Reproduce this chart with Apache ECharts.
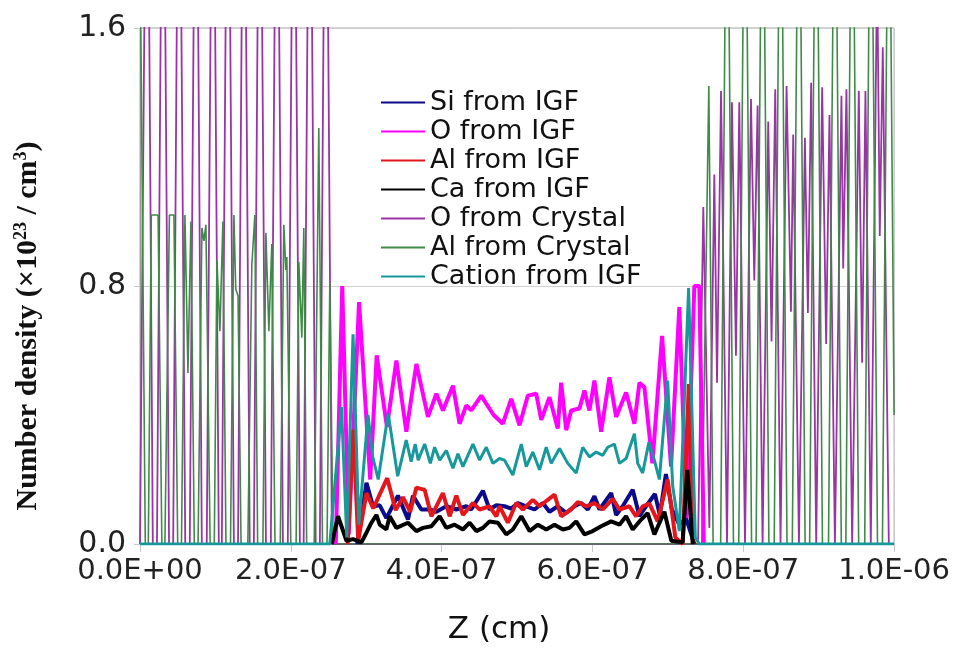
<!DOCTYPE html>
<html lang="en">
<head>
    <meta charset="UTF-8">
    <title>Number density profile</title>
    <script src="https://cdn.jsdelivr.net/npm/echarts@6/dist/echarts.min.js"></script>
    <style>
        html, body { margin: 0; padding: 0; background: #fff; }
        #chart { width: 953px; height: 650px; }
    </style>
</head>
<body>
<div id="chart"></div>
<script>
    // z in units of 1E-07 cm (nm), density in 1E23 / cm3
    var xTickLabels = ['0.0E+00', '2.0E-07', '4.0E-07', '6.0E-07', '8.0E-07', '1.0E-06'];
    var yTickLabels = ['0.0', '0.8', '1.6'];
    var seriesNames = ['Si from IGF', 'O from IGF', 'Al from IGF', 'Ca from IGF', 'O from Crystal', 'Al from Crystal', 'Cation from IGF'];

    var siIGF = [[2.881,0],[3.003,0.19],[3.090,0.117],[3.179,0.12],[3.267,0.08],[3.421,0.15],[3.554,0.076],[3.620,0.15],
        [3.731,0.107],[3.841,0.107],[3.930,0.1],[4.062,0.117],[4.195,0.107],[4.327,0.117],[4.393,0.107],[4.547,0.165],
        [4.636,0.107],[4.725,0.12],[4.834,0.117],[4.923,0.11],[5.011,0.127],[5.122,0.117],[5.232,0.107],[5.342,0.127],
        [5.430,0.1],[5.540,0.117],[5.652,0.097],[5.762,0.117],[5.850,0.127],[5.938,0.107],[6.026,0.148],[6.093,0.107],
        [6.248,0.158],[6.314,0.09],[6.401,0.117],[6.534,0.168],[6.623,0.086],[6.711,0.117],[6.828,0.155],[6.894,0.09],
        [6.974,0.217],[7.053,0.107],[7.152,0.06],[7.241,0.08],[7.351,0]];

    var oIGF = [[2.596,0],[2.682,0.80],[2.768,0.03],[2.905,0.75],[3.053,0.2],[3.139,0.585],[3.275,0.363],[3.400,0.569],
        [3.532,0.348],[3.665,0.558],[3.819,0.394],[3.930,0.466],[4.017,0.414],[4.150,0.491],[4.238,0.373],[4.327,0.43],
        [4.393,0.414],[4.526,0.46],[4.592,0.435],[4.689,0.40],[4.812,0.373],[4.923,0.45],[5.033,0.368],[5.143,0.46],
        [5.254,0.466],[5.321,0.385],[5.430,0.455],[5.540,0.358],[5.585,0.50],[5.652,0.353],[5.718,0.414],[5.828,0.42],
        [5.894,0.476],[5.960,0.414],[6.026,0.507],[6.115,0.348],[6.225,0.517],[6.314,0.394],[6.446,0.47],[6.556,0.373],
        [6.623,0.50],[6.689,0.486],[6.795,0.25],[6.923,0.645],[7.042,0.24],[7.152,0.735],[7.249,0.08],[7.351,0.80],
        [7.417,0.80],[7.477,0]];

    var alIGF = [[2.755,0],[2.828,0.355],[2.894,0.01],[3.003,0.158],[3.093,0.11],[3.278,0.204],[3.391,0.105],[3.487,0.145],
        [3.583,0.1],[3.665,0.175],[3.775,0.168],[3.864,0.086],[4.017,0.158],[4.106,0.086],[4.195,0.15],[4.282,0.09],
        [4.415,0.127],[4.503,0.107],[4.636,0.117],[4.725,0.086],[4.768,0.117],[4.878,0.066],[4.989,0.127],[5.077,0.107],
        [5.209,0.137],[5.298,0.117],[5.497,0.153],[5.585,0.086],[5.718,0.107],[5.805,0.13],[5.917,0.117],[6.026,0.127],
        [6.137,0.107],[6.269,0.14],[6.358,0.107],[6.490,0.117],[6.579,0.086],[6.666,0.117],[6.755,0.125],[6.865,0.07],
        [6.997,0.2],[7.099,0.02],[7.196,0],[7.278,0.496],[7.331,0]];

    var caIGF = [[2.543,0],[2.626,0.086],[2.738,0.01],[2.825,0.015],[2.936,0.005],[3.003,0.035],[3.069,0.066],[3.135,0.09],
        [3.179,0.06],[3.267,0.045],[3.311,0.086],[3.400,0.05],[3.554,0.066],[3.665,0.04],[3.752,0.05],[3.864,0.055],
        [3.974,0.086],[4.062,0.05],[4.172,0.06],[4.282,0.045],[4.371,0.066],[4.460,0.04],[4.547,0.05],[4.636,0.07],
        [4.746,0.066],[4.857,0.03],[4.944,0.045],[5.056,0.086],[5.166,0.04],[5.276,0.06],[5.387,0.045],[5.497,0.06],
        [5.607,0.045],[5.695,0.05],[5.784,0.07],[5.894,0.03],[6.004,0.04],[6.115,0.055],[6.248,0.07],[6.358,0.06],
        [6.446,0.086],[6.534,0.045],[6.623,0.07],[6.732,0.096],[6.821,0.03],[6.954,0.1],[7.046,0.01],[7.196,0.005],
        [7.258,0.23],[7.331,0]];

    var oCrystal = [[0,0],[0.013,0],[0.093,2.6],[0.17,0],[0.225,0],[0.305,2.6],[0.385,0],[0.44,0],[0.517,2.6],[0.6,0],
        [0.66,0],[0.742,2.6],[0.82,0],[0.885,0],[0.967,2.6],[1.045,0],[1.085,0],[1.166,2.6],[1.245,0],[1.3,0],
        [1.377,2.6],[1.455,0],[1.51,0],[1.589,2.6],[1.67,0],[1.735,0],[1.815,2.6],[1.895,0],[1.96,0],[2.04,2.6],
        [2.12,0],[2.17,0],[2.252,2.6],[2.33,0],[2.385,0],[2.464,2.6],[2.545,0],
        [7.40,0],[7.47,1.045],[7.55,0.05],[7.616,1.146],[7.652,0.50],[7.705,1.405],[7.784,0],[7.85,1.37],[7.903,0.584],
        [7.947,1.37],[8.023,0],[8.102,1.38],[8.146,0.817],[8.19,1.36],[8.256,0],[8.331,1.31],[8.375,0.628],[8.424,1.41],
        [8.494,0],[8.574,1.42],[8.632,0.72],[8.662,1.27],[8.738,0],[8.817,1.26],[8.857,0.716],[8.9,1.43],[8.967,0],
        [9.046,1.416],[9.099,0.62],[9.143,1.33],[9.215,0],[9.302,1.39],[9.325,0.854],[9.368,1.41],[9.444,0],
        [9.532,1.405],[9.576,0.562],[9.62,1.405],[9.691,0],[9.775,1.8],[9.81,0.955],[9.85,1.54],[9.93,0],[10,0]];

    var alCrystal = [[0,1.9],[0.07,0],[0.11,0],[0.15,1.02],[0.24,1.02],[0.29,0],[0.33,0],[0.39,1.02],[0.45,1.02],[0.5,0],
        [0.55,0],[0.596,1.02],[0.636,0.53],[0.675,1.0],[0.72,0],[0.77,0],[0.821,0.98],[0.848,0.94],[0.874,0.99],[0.93,0],
        [0.985,0],[1.02,0.88],[1.06,0.66],[1.099,1.0],[1.14,0],[1.2,0],[1.245,1.02],[1.27,0.79],[1.30,0.77],[1.34,0],
        [1.43,0],[1.483,0.865],[1.523,1.02],[1.56,0],[1.63,0],[1.669,0.965],[1.709,0.66],[1.748,0.93],[1.79,0],
        [1.86,0],[1.907,0.99],[1.934,0.85],[1.947,0.89],[2.0,0],[2.07,0],[2.106,0.875],[2.146,0.64],[2.172,0.98],[2.21,0],
        [2.31,0],[2.371,1.29],[2.42,0],[2.48,0],[2.517,0.81],[2.56,0],
        [7.45,0],[7.543,1.42],[7.6,0],[7.70,0],[7.784,2.4],[7.87,0],[7.94,0],[8.023,2.4],[8.11,0],[8.17,0],[8.256,2.4],
        [8.34,0],[8.41,0],[8.494,2.4],[8.58,0],[8.65,0],[8.738,2.4],[8.82,0],[8.88,0],[8.967,2.4],[9.05,0],[9.13,0],
        [9.215,2.4],[9.30,0],[9.36,0],[9.444,2.4],[9.53,0],[9.61,0],[9.691,2.4],[9.78,0],[9.845,0],[9.93,2.4],[10,0.4]];

    var cationIGF = [[0,0],[2.517,0],[2.672,0.425],[2.742,0.02],[2.825,0.65],[2.901,0.06],[3.024,0.40],[3.086,0.27],
        [3.159,0.2],[3.291,0.405],[3.417,0.21],[3.530,0.322],[3.596,0.255],[3.649,0.31],[3.689,0.26],[3.775,0.31],
        [3.850,0.25],[3.907,0.30],[3.974,0.26],[4.062,0.29],[4.150,0.235],[4.216,0.28],[4.282,0.24],[4.415,0.31],
        [4.503,0.26],[4.592,0.30],[4.680,0.25],[4.768,0.265],[4.834,0.26],[4.944,0.214],[5.056,0.31],[5.122,0.24],
        [5.209,0.285],[5.298,0.23],[5.387,0.30],[5.453,0.25],[5.563,0.296],[5.673,0.25],[5.784,0.22],[5.871,0.30],
        [5.960,0.27],[6.049,0.285],[6.137,0.275],[6.203,0.30],[6.291,0.31],[6.358,0.25],[6.446,0.265],[6.556,0.342],
        [6.600,0.25],[6.666,0.22],[6.748,0.315],[6.821,0.26],[6.887,0.2],[6.997,0.507],[7.064,0.18],[7.152,0.04],
        [7.275,0.794],[7.364,0.02],[7.417,0],[10,0]];

    var myChart = echarts.init(document.getElementById('chart'));
    var tickFont = 'DejaVu Sans';

    function lineSeries(name, data, color, width, z) {
        return {
            name: name,
            type: 'line',
            data: data,
            symbol: 'none',
            clip: true,
            z: z,
            lineStyle: { color: color, width: width },
            itemStyle: { color: color }
        };
    }

    var option = {
        animation: false,
        backgroundColor: '#fff',
        grid: {
            left: 140, right: 58, top: 28, bottom: 102,
            show: true, borderColor: '#a8a8a8', borderWidth: 1
        },
        legend: {
            data: seriesNames,
            orient: 'vertical',
            left: 375,
            top: 84,
            itemWidth: 44,
            itemHeight: 14,
            itemGap: 2,
            itemStyle: { opacity: 0 },
            textStyle: { fontFamily: tickFont, fontSize: 27, color: '#111' }
        },
        xAxis: {
            type: 'value',
            min: 0, max: 10, interval: 2,
            name: 'Z (cm)',
            nameLocation: 'middle',
            nameGap: 70,
            nameTextStyle: { fontFamily: tickFont, fontSize: 31, color: '#111', padding: [0, 36, 0, 0] },
            axisLine: { lineStyle: { color: '#999' } },
            axisTick: { show: true, length: 8, lineStyle: { color: '#c8c8c8' } },
            splitLine: { show: false },
            axisLabel: {
                margin: 13,
                fontFamily: tickFont, fontSize: 29, color: '#222',
                formatter: function (v) { return xTickLabels[Math.round(v / 2)]; }
            }
        },
        yAxis: {
            type: 'value',
            min: 0, max: 1.6, interval: 0.8,
            name: 'Number density (×10{sup|23} / cm{sup|3})',
            nameLocation: 'middle',
            nameGap: 96,
            nameTextStyle: {
                fontFamily: 'Liberation Serif', fontWeight: 'bold', fontSize: 30, color: '#111',
                padding: [0, 80, 0, 0],
                rich: {
                    sup: { fontFamily: 'Liberation Serif', fontWeight: 'bold', fontSize: 18, color: '#111', padding: [0, 0, 14, 0] }
                }
            },
            axisLine: { show: true, lineStyle: { color: '#999' } },
            axisTick: { show: true, length: 6, lineStyle: { color: '#c8c8c8' } },
            splitLine: { show: true, lineStyle: { color: '#d0d0d0' } },
            axisLabel: {
                margin: 14,
                fontFamily: tickFont, fontSize: 30, color: '#222',
                formatter: function (v) { return yTickLabels[Math.round(v / 0.8)]; }
            }
        },
        series: [
            lineSeries('O from Crystal', oCrystal, '#9a34a6', 1.8, 1),
            lineSeries('Al from Crystal', alCrystal, '#3f8a47', 1.6, 2),
            lineSeries('Si from IGF', siIGF, '#0a0a8a', 4, 3),
            lineSeries('O from IGF', oIGF, '#ff00ff', 4, 4),
            lineSeries('Al from IGF', alIGF, '#e3161c', 4, 5),
            lineSeries('Ca from IGF', caIGF, '#000000', 4, 6),
            lineSeries('Cation from IGF', cationIGF, '#17989a', 3, 7)
        ]
    };
    myChart.setOption(option);
</script>
</body>
</html>
